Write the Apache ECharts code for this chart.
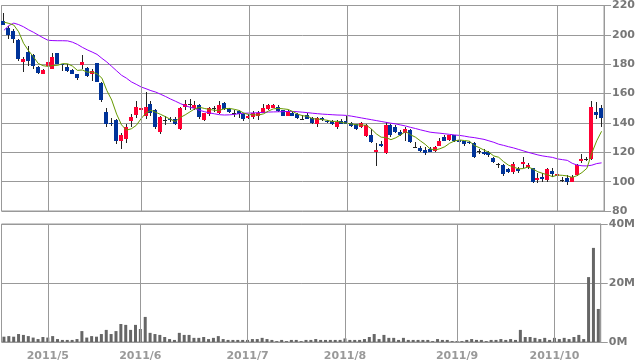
<!DOCTYPE html>
<html><head><meta charset="utf-8">
<script src="https://cdn.jsdelivr.net/npm/echarts@6/dist/echarts.min.js"></script>
<style>html,body{margin:0;padding:0;background:#fff}#c{width:638px;height:362px}</style>
</head><body><div id="c"></div>
<script>
const dates = [
"2011/4/18","2011/4/19","2011/4/20","2011/4/21","2011/4/22","2011/4/25","2011/4/26","2011/4/27","2011/4/28",
"2011/5/2","2011/5/6","2011/5/9","2011/5/10","2011/5/11","2011/5/12","2011/5/13","2011/5/16","2011/5/17","2011/5/18","2011/5/19","2011/5/20","2011/5/23","2011/5/24","2011/5/25","2011/5/26","2011/5/27","2011/5/30","2011/5/31",
"2011/6/1","2011/6/2","2011/6/3","2011/6/6","2011/6/7","2011/6/8","2011/6/9","2011/6/10","2011/6/13","2011/6/14","2011/6/15","2011/6/16","2011/6/17","2011/6/20","2011/6/21","2011/6/22","2011/6/23","2011/6/24","2011/6/27","2011/6/28","2011/6/29","2011/6/30",
"2011/7/1","2011/7/4","2011/7/5","2011/7/6","2011/7/7","2011/7/8","2011/7/11","2011/7/12","2011/7/13","2011/7/14","2011/7/15","2011/7/19","2011/7/20","2011/7/21","2011/7/22","2011/7/25","2011/7/26","2011/7/27","2011/7/28","2011/7/29",
"2011/8/1","2011/8/2","2011/8/3","2011/8/4","2011/8/5","2011/8/8","2011/8/9","2011/8/10","2011/8/11","2011/8/12","2011/8/15","2011/8/16","2011/8/17","2011/8/18","2011/8/19","2011/8/22","2011/8/23","2011/8/24","2011/8/25","2011/8/26","2011/8/29","2011/8/30","2011/8/31",
"2011/9/1","2011/9/2","2011/9/5","2011/9/6","2011/9/7","2011/9/8","2011/9/9","2011/9/12","2011/9/13","2011/9/14","2011/9/15","2011/9/16","2011/9/20","2011/9/21","2011/9/22","2011/9/26","2011/9/27","2011/9/28","2011/9/29","2011/9/30",
"2011/10/3","2011/10/4","2011/10/5","2011/10/6","2011/10/7","2011/10/11","2011/10/12","2011/10/13","2011/10/14","2011/10/17"];

const openP = [209.5,205,202.5,196.5,181.6,188.5,186,178,173.5,179, 177,187.5,180,178,176,173,179.5,177.5,173.3,180.5, 167.5,147.5,140,142,127.5,129,141,145.5,149,145, 153,148.5,133.5,142.3,143,143,136,151,153,150, 152.5,142,146,150,146.5,153.5,149.5,146.8,148,146, 143.5,144,145,147,149.5,150.5,151,148.5,145,147, 146,142.8,145.5,143.5,139.5,143.5,141.5,141.5,137,141.5, 141,140,139,137,131,131.5,120.3,125.5,119.5,138.5, 137.5,134,133,135.5,123.7,123,121.5,122.5,121,124.2, 130.5,128.5,131.5,128.5,127.5,127,126.5,120.7,120.5,120, 116,112.3,111,108.5,106.5,108.5,111.8,110,109,101, 103.5,101,107,103.8,101.3,102.5,100,104.5,114,115.7, 115.5,147.5,150.5];
const closeP = [207,200,197,183.5,183.8,182,179,174,176,181.5, 185,180,179.5,175.5,173.5,170.5,181.5,172,175.5,168, 155.5,139.5,139.5,127.5,131.5,137.5,144,151,150.5,151, 146.5,137,144,142.3,142,139.5,150.5,153,153,152.5, 144,146.5,150,150,152.5,149.5,147.5,146.8,146,143, 145,146.5,146.5,150,152.5,152.5,148,145,148,145, 143.5,142.8,143,140,143.5,142,140.5,139,140.5,139.5, 139.5,138,136,140,138.5,127,121.3,124.5,138.5,131.5, 133.5,131.5,136,127,123.7,121,119.5,120.5,123.5,127.5, 128,131.5,128,127,125.5,126,117,120.7,118.5,118, 113.5,112.3,105.5,106.5,112.3,107,113.4,111,99.5,102.5, 101.5,108.3,105.3,105,101.3,99.5,103.5,111,115.7,115.7, 151,145.5,143.5];
const highP = [215,206,204,197,185,192.5,187,179,176.5,183.5, 187.5,187.5,180,180,177,173.5,186,178,176.5,181, 168,150,143.5,142.5,133,139.5,146,155,151.5,161, 155,149.5,145,145,144,144,151,155.5,156,155, 153,147,151,151.5,155,154,150,148.5,148.5,146.5, 146,148,148,153,153,153,152,149,148.5,147.5, 146.5,145.5,146.5,144,144,144,142,142,142,142.5, 144.5,140.5,139.5,140.5,139,136,126,128,140.5,139.5, 138.5,135,137,136,127,124.5,123.5,123.5,124,130, 132,132,132,129,128,127.5,127,122,122,121, 116.5,112.8,112,109,113.5,110,117,112.5,109.5,106, 106,109.5,109,106,103,104.5,104.5,112,118.5,117, 155,154.5,152.5];
const lowP = [206.5,197,194.5,182.5,175,179,177,173.5,173,173, 176.5,180,175.5,175,173,169.5,177,171,168.5,168, 154.5,137.5,138,125.5,122.5,126,137,143.5,145,143, 145,136,132.5,138.5,140.5,138.5,135,148.5,149,148.5, 142.5,141.5,145,147.5,146,149,147,144,143.5,141, 142.5,143,142,146.5,149,150,147.5,144.5,144.5,144.5, 143,142.5,142.5,139.5,137.5,141.5,140,138.5,136,139, 139,137.5,135.5,136.5,130.5,126,110.5,123.5,118.5,130.5, 133,131,128,126.5,123,120.5,118,120,120.5,124, 127.5,128,127,126.5,124.5,125.5,116,118.5,118,116.5, 113,109,104,106,105,106,109,108.5,99,99, 100,99.5,103,103,99.5,98,99.5,104,112.5,114, 114.5,143,137.5];

const ma5 = [208.7,207.8,206.7,202.1,194.3,189.3,185.1,180.5,179.0,178.5, 179.1,179.3,180.4,180.3,178.7,175.8,176.1,174.6,174.6,173.5, 170.5,162.1,155.6,146.0,138.7,135.1,136.0,138.3,142.9,146.8, 148.6,147.2,145.8,144.2,142.4,141.0,143.7,145.5,147.6,149.7, 150.6,149.8,149.2,148.6,148.6,149.7,149.9,149.3,148.5,146.6, 145.7,145.5,145.4,146.2,148.1,149.6,149.9,149.6,149.2,147.7, 145.9,144.9,144.5,142.9,142.6,142.3,141.8,141.0,141.1,140.3, 139.8,139.3,138.7,138.6,138.4,135.9,132.6,130.3,130.0,128.6, 129.9,131.9,134.2,131.9,130.3,127.8,125.4,122.3,121.6,122.4, 123.8,126.2,127.7,128.4,128.0,127.6,124.7,123.2,121.5,120.0, 117.5,116.6,113.6,111.2,110.0,108.7,108.9,110.0,108.6,106.7, 105.6,104.6,103.4,104.5,104.3,103.9,102.9,104.1,106.2,109.1, 119.4,127.8,134.3];
const ma25 = [203.1,206.3,208.0,207.0,205.5,203.5,201.8,199.9,198.0,196.3, 196.1,196.0,196.0,195.9,195.0,193.5,191.5,189.8,188.3,186.7, 184.0,181.5,178.5,175.5,172.5,170.5,168.0,166.3,164.5,163.3, 162.0,161.0,159.5,158.0,156.3,154.8,153.2,151.8,150.7,149.8, 148.5,147.6,146.8,146.2,145.6,145.4,145.5,145.8,146.3,146.6, 146.7,146.8,147.0,147.2,147.4,147.5,147.6,147.7,147.8,147.8, 147.6,147.3,147.0,146.6,146.3,146.0,145.8,145.6,145.4,145.3, 145.1,144.6,144.0,143.4,142.8,142.2,141.6,141.0,140.4,139.8, 139.3,138.6,137.9,137.0,136.2,135.3,134.5,133.7,133.3,133.0, 132.6,132.2,131.8,131.5,131.0,130.4,130.0,129.4,128.8,127.8, 126.8,125.5,124.7,123.8,123.0,122.0,121.0,120.0,119.1,118.2, 117.5,117.0,116.5,115.5,115.0,114.5,112.5,111.3,110.8,110.7, 111.2,112.3,112.8];
// volume in millions of shares
const volumeM = [1.8,2.0,1.8,2.7,2.4,2.0,1.5,1.0,1.7,1.5, 2.0,1.0,0.7,0.7,0.7,1.0,3.7,1.5,2.0,1.8, 2.7,4.1,2.7,3.7,6.1,5.8,4.1,5.8,4.4,8.5, 3.1,2.7,2.4,1.7,1.0,0.7,3.1,2.4,2.4,1.4, 1.4,1.7,1.0,1.4,2.0,1.0,0.7,0.7,0.7,0.7, 0.7,1.0,1.0,1.4,1.0,0.7,0.3,0.7,0.3,0.7, 0.7,0.3,0.7,0.7,1.0,0.7,0.7,0.7,0.7,0.7, 1.2,0.7,0.7,0.7,1.0,1.7,2.7,1.0,2.4,1.4, 1.4,0.7,1.4,0.7,0.7,0.7,0.7,0.7,0.3,1.0, 0.7,0.7,0.3,0.3,0.3,0.7,1.0,0.7,0.7,0.3, 0.7,0.7,1.0,0.7,1.0,0.7,4.1,1.7,1.7,1.4, 1.0,1.4,0.7,1.4,1.0,1.4,1.0,1.7,2.4,1.0, 22.0,31.9,11.2];

const priceAxis = {min: 80, max: 220, interval: 20};
const volAxis = {min: 0, max: 40, interval: 20};

const RED = '#ff0033', BLUE = '#003399', WICK = '#222222', GRID = '#999999';

function monthOf(i){ return dates[i].split('/')[1]; }
function isMonthStart(i){ return i > 0 && monthOf(i) !== monthOf(i - 1); }
const monthStarts = dates.filter((d, i) => isMonthStart(i));

const candleData = dates.map((d, i) => [i, openP[i], closeP[i], lowP[i], highP[i]]);

function renderCandle(params, api){
  const i = api.value(0), o = api.value(1), c = api.value(2), l = api.value(3), h = api.value(4);
  const pO = api.coord([i, o]), pC = api.coord([i, c]), pH = api.coord([i, h]), pL = api.coord([i, l]);
  const cx = Math.floor(pO[0]);
  const top = Math.round(Math.min(pO[1], pC[1])), bot = Math.round(Math.max(pO[1], pC[1]));
  const yH = Math.round(pH[1]), yL = Math.round(pL[1]);
  const col = c > o ? RED : (c < o ? BLUE : WICK);
  return {type: 'group', children: [
    {type: 'rect', shape: {x: cx, y: yH, width: 1, height: Math.max(yL - yH, 1)}, style: {fill: WICK}},
    {type: 'rect', shape: {x: cx - 2, y: top, width: 4, height: Math.max(bot - top, 1)}, style: {fill: col}}
  ]};
}

const labelFont = {fontFamily: 'DejaVu Sans', fontWeight: 'bold', fontSize: 11};
const chart = echarts.init(document.getElementById('c'));
chart.setOption({
  animation: false,
  backgroundColor: '#ffffff',
  grid: [
    {left: 1.5, width: 603.5, top: 4, height: 207, show: true, borderColor: GRID, borderWidth: 1, backgroundColor: '#fff'},
    {left: 1.5, width: 603.5, top: 224, height: 118, show: true, borderColor: GRID, borderWidth: 1, backgroundColor: '#fff'}
  ],
  xAxis: [
    {type: 'category', gridIndex: 0, data: dates, boundaryGap: true, axisLine: {show: false}, axisTick: {show: false}, axisLabel: {show: false}, splitLine: {show: false}},
    {type: 'category', gridIndex: 1, data: dates, boundaryGap: true, axisLine: {show: false}, axisTick: {show: false},
     axisLabel: Object.assign({show: true, interval: (idx) => isMonthStart(idx), formatter: (v) => v.split('/').slice(0, 2).join('/'), color: '#999', margin: 9}, labelFont),
     splitLine: {show: false}}
  ],
  yAxis: [
    {type: 'value', gridIndex: 0, position: 'right', min: priceAxis.min, max: priceAxis.max, interval: priceAxis.interval,
     axisLine: {show: true, lineStyle: {color: GRID}}, axisTick: {show: true, length: 7, lineStyle: {color: GRID}},
     axisLabel: Object.assign({color: '#777', margin: 8}, labelFont), splitLine: {show: true, lineStyle: {color: GRID, width: 1}}},
    {type: 'value', gridIndex: 1, position: 'right', min: volAxis.min, max: volAxis.max, interval: volAxis.interval,
     axisLine: {show: true, lineStyle: {color: GRID}}, axisTick: {show: true, length: 7, lineStyle: {color: GRID}},
     axisLabel: Object.assign({color: '#777', margin: 8, formatter: (v) => v + 'M'}, labelFont), splitLine: {show: true, lineStyle: {color: GRID, width: 1}}}
  ],
  series: [
    {type: 'line', xAxisIndex: 0, yAxisIndex: 0, data: ma25, showSymbol: false, lineStyle: {opacity: 0}, z: 1, silent: true,
     markLine: {silent: true, symbol: 'none', label: {show: false}, lineStyle: {color: GRID, type: 'solid', width: 1}, data: monthStarts.map(d => ({xAxis: d}))}},
    {type: 'custom', xAxisIndex: 0, yAxisIndex: 0, data: candleData, renderItem: renderCandle, encode: {x: 0, y: [1, 2, 3, 4]}, z: 2, silent: true},
    {type: 'line', name: 'MA25', xAxisIndex: 0, yAxisIndex: 0, data: ma25, showSymbol: false, lineStyle: {color: '#9900ff', width: 1}, z: 3, silent: true},
    {type: 'line', name: 'MA5', xAxisIndex: 0, yAxisIndex: 0, data: ma5, showSymbol: false, lineStyle: {color: '#669900', width: 1}, z: 3, silent: true},
    {type: 'bar', xAxisIndex: 1, yAxisIndex: 1, data: volumeM, barWidth: 3, itemStyle: {color: '#666666'}, z: 2, silent: true,
     markLine: {silent: true, symbol: 'none', label: {show: false}, lineStyle: {color: GRID, type: 'solid', width: 1}, data: monthStarts.map(d => ({xAxis: d}))}}
  ]
});
</script></body></html>
